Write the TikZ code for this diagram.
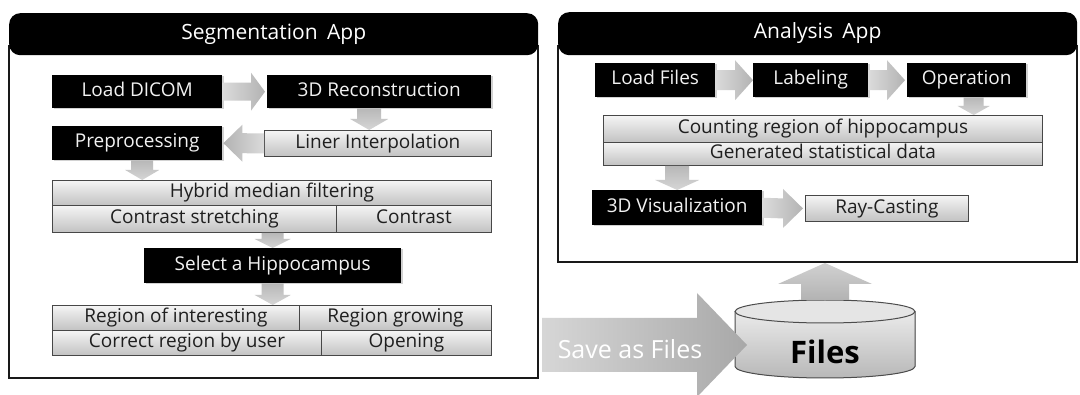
\documentclass[tikz,border=0pt]{standalone}
\usepackage{fontspec}
\setmainfont{Open Sans}
\usetikzlibrary{calc,shadows}

\newcommand\boxfont{\fontsize{19}{22}\selectfont}

\tikzset{
  blackbox/.style={fill=black, text=white!95!black, inner sep=0pt,
    font=\boxfont, text height=13.5pt, text depth=4pt,
    drop shadow={shadow xshift=1.3pt, shadow yshift=-1.3pt, opacity=0.35}},
  graybox/.style={draw=black!72, line width=0.9pt, top color=white!96!black,
    bottom color=black!24, inner sep=0pt, text=black!88,
    font=\boxfont, text height=13.5pt, text depth=4pt},
  header/.style={fill=black, rounded corners=11pt, text=white, inner sep=0pt,
    font=\fontsize{21}{24}\selectfont, text height=15pt, text depth=4.5pt},
  frameline/.style={draw=black!90, line width=1.6pt},
  % block arrow along x: shaft half width, head half width, head length (signed)
  harrow/.style n args={3}{to path={
    ($(\tikztostart)+(0,-#1)$) -- ($(\tikztotarget)+(-#3,-#1)$)
    -- ($(\tikztotarget)+(-#3,-#2)$) -- (\tikztotarget)
    -- ($(\tikztotarget)+(-#3,#2)$) -- ($(\tikztotarget)+(-#3,#1)$)
    -- ($(\tikztostart)+(0,#1)$) -- cycle}},
  % block arrow along y: shaft half width, head half width, head length (signed)
  varrow/.style n args={3}{to path={
    ($(\tikztostart)+(-#1,0)$) -- ($(\tikztotarget)+(-#1,-#3)$)
    -- ($(\tikztotarget)+(-#2,-#3)$) -- (\tikztotarget)
    -- ($(\tikztotarget)+(#2,-#3)$) -- ($(\tikztotarget)+(#1,-#3)$)
    -- ($(\tikztostart)+(#1,0)$) -- cycle}},
  rshade/.style={left color=black!14, right color=black!30},
  lshade/.style={left color=black!30, right color=black!14},
  dshade/.style={top color=black!28, bottom color=black!16},
  ushade/.style={top color=black!18, bottom color=black!30},
}

\begin{document}
\begin{tikzpicture}[x=1pt,y=-1pt]
\useasboundingbox (0,0) rectangle (1080,395);
\fill[white] (0,0) rectangle (1080,395);

% ---------- Segmentation App ----------
\draw[frameline] (9,45) |- (538,378) -- (538,45);
\node[header, anchor=north west, minimum width=529pt, minimum height=42pt]
  (shead) at (9,13) {Segmentation\hspace{0.45em}App};

\node[blackbox, anchor=north west, minimum width=170pt, minimum height=33pt]
  (load) at (52,75) {Load DICOM};
\node[blackbox, anchor=north west, minimum width=224pt, minimum height=33pt]
  (recon) at (267,75) {3D Reconstruction};
\node[blackbox, anchor=north west, minimum width=170pt, minimum height=34pt]
  (prep) at (52,126) {Preprocessing};
\node[graybox, anchor=north west, minimum width=227pt, minimum height=26pt]
  (liner) at (264,130) {Liner Interpolation};

\node[graybox, anchor=north west, minimum width=439pt, minimum height=25pt]
  (hybrid) at (52,180) {Hybrid median filtering};
\node[graybox, anchor=north west, minimum width=284pt, minimum height=27pt]
  (cstretch) at (52,205) {Contrast stretching};
\node[graybox, anchor=north west, minimum width=155pt, minimum height=27pt]
  (contrast) at (336,205) {Contrast};

\node[blackbox, anchor=north west, minimum width=257pt, minimum height=35pt]
  (select) at (144,248) {Select a Hippocampus};

\node[graybox, anchor=north west, minimum width=247pt, minimum height=25pt]
  (roi) at (52,305) {Region of interesting};
\node[graybox, anchor=north west, minimum width=192pt, minimum height=25pt]
  (grow) at (299,305) {Region growing};
\node[graybox, anchor=north west, minimum width=269pt, minimum height=25pt]
  (correct) at (52,330) {Correct region by user};
\node[graybox, anchor=north west, minimum width=170pt, minimum height=25pt]
  (opening) at (321,330) {Opening};

% arrows of the segmentation flow
\path[harrow={9}{19}{14}, rshade] (load.east) to ([xshift=-2pt]recon.west);
\coordinate (r1) at ([xshift=-10pt]recon.south);
\coordinate (r2) at (r1 |- liner.north);
\path[varrow={12}{19}{11}, dshade] (r1) to (r2);
\path[harrow={10}{18.5}{-19}, lshade] (liner.west) to ([xshift=1pt]prep.east);
\coordinate (p1) at ([xshift=5pt]prep.south);
\coordinate (p2) at (p1 |- hybrid.north);
\path[varrow={11}{17}{10}, dshade] (p1) to (p2);
\coordinate (c1) at (select.north |- cstretch.south);
\path[varrow={11}{18}{9}, dshade] (c1) to (select.north);
\coordinate (s1) at (select.south |- roi.north);
\path[varrow={11}{18}{10}, dshade] (select.south) to (s1);

% ---------- Analysis App ----------
\draw[frameline] (558,45) |- (1077,262) -- (1077,45);
\node[header, anchor=north west, minimum width=519pt, minimum height=43pt]
  (ahead) at (558,12) {Analysis\hspace{0.45em}App};

\node[blackbox, anchor=north west, minimum width=120pt, minimum height=34pt]
  (lfiles) at (595,63) {Load Files};
\node[blackbox, anchor=north west, minimum width=115pt, minimum height=34pt]
  (label) at (753,63) {Labeling};
\node[blackbox, anchor=north west, minimum width=119pt, minimum height=34pt]
  (oper) at (907,63) {Operation};

\node[graybox, anchor=north west, minimum width=439pt, minimum height=27pt]
  (count) at (603,115) {Counting region of hippocampus};
\node[graybox, anchor=north west, minimum width=439pt, minimum height=23pt]
  (gen) at (603,142) {Generated statistical data};

\node[blackbox, anchor=north west, minimum width=170pt, minimum height=35pt]
  (vis) at (592,190) {3D Visualization};
\node[graybox, anchor=north west, minimum width=163pt, minimum height=26pt]
  (ray) at (805,195) {Ray-Casting};

% arrows of the analysis flow
\path[harrow={10}{20}{18}, rshade] (lfiles.east) to (label.west);
\path[harrow={10}{20}{18}, rshade] (label.east) to ([xshift=-2pt]oper.west);
\coordinate (o1) at ([xshift=7pt]oper.south);
\coordinate (o2) at (o1 |- count.north);
\path[varrow={10}{16}{9}, dshade] (o1) to (o2);
\coordinate (g1) at (vis.north |- gen.south);
\path[varrow={12}{22}{10}, dshade] (g1) to (vis.north);
\path[harrow={10}{19.5}{20}, rshade] (vis.east) to ([xshift=-2pt]ray.west);

% ---------- Files store ----------
\fill[top color=black!8, bottom color=black!28]
  (735,311.5) -- (735,366.5) arc[start angle=180, end angle=0, x radius=90, y radius=11.5]
  -- (915,311.5) -- cycle;
\draw[black!70, line width=1pt]
  (735,311.5) -- (735,366.5) arc[start angle=180, end angle=0, x radius=90, y radius=11.5]
  -- (915,311.5);
\draw[black!70, line width=1pt, fill=black!10] (825,311.5) ellipse[x radius=90, y radius=11.5];
\node[font=\fontsize{31}{34}\bfseries\selectfont, text=black] (files) at (825,352) {Files};

\coordinate (filestop) at (825,300);
\coordinate (abottom) at (825,263);
\path[varrow={24}{47}{-21}, ushade] (filestop) to (abottom);

\coordinate (savefrom) at (542,345);
\coordinate (saveto) at (747,345);
\path[harrow={27}{52}{50}, left color=black!16, right color=black!34] (savefrom) to (saveto);
\node[font=\fontsize{25}{28}\selectfont, text=white] (savetext) at (630,349) {Save as Files};
\end{tikzpicture}
\end{document}
